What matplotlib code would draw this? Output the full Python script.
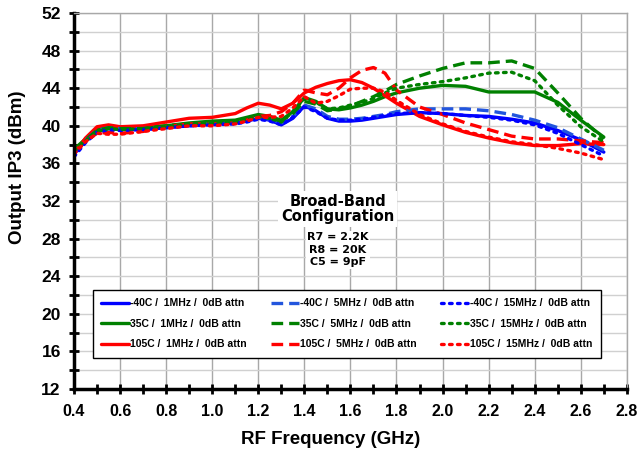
import matplotlib
matplotlib.use("Agg")
import matplotlib.pyplot as plt
from matplotlib.ticker import MultipleLocator

# frequency points (GHz)
freq = [0.4, 0.45, 0.5, 0.55, 0.6, 0.7, 0.8, 0.9, 1.0, 1.1, 1.15, 1.2, 1.25, 1.3, 1.35,
        1.4, 1.45, 1.5, 1.55, 1.6, 1.65, 1.7, 1.75, 1.8, 1.9, 2.0, 2.1, 2.2, 2.3, 2.4,
        2.5, 2.6, 2.7]

# output IP3 (dBm)
m40_1 = [37.0, 38.4, 39.4, 39.7, 39.6, 39.6, 39.8, 40.0, 40.2, 40.3, 40.5, 40.8, 40.6, 40.1, 40.8,
         42.1, 41.6, 40.8, 40.5, 40.5, 40.6, 40.8, 41.0, 41.2, 41.4, 41.3, 41.1, 41.0, 40.7, 40.3,
         39.5, 38.5, 37.2]
m40_5 = [37.2, 38.5, 39.5, 39.8, 39.7, 39.7, 39.9, 40.1, 40.2, 40.3, 40.6, 40.9, 40.7, 40.3, 41.0,
         42.2, 41.8, 41.0, 40.7, 40.7, 40.8, 41.0, 41.2, 41.5, 41.8, 41.8, 41.8, 41.6, 41.2, 40.6,
         39.8, 38.6, 37.4]
m40_15 = [36.7, 38.2, 39.3, 39.6, 39.5, 39.6, 39.8, 40.0, 40.1, 40.2, 40.4, 40.7, 40.5, 40.1, 40.9,
          42.0, 41.5, 40.8, 40.6, 40.6, 40.7, 40.9, 41.1, 41.3, 41.4, 41.3, 41.1, 40.9, 40.6, 40.1,
          39.2, 38.0, 36.8]
t35_1 = [37.5, 38.6, 39.6, 39.8, 39.7, 39.8, 40.0, 40.3, 40.5, 40.6, 40.9, 41.2, 41.0, 40.6, 41.5,
         43.0, 42.6, 41.8, 41.7, 41.9, 42.2, 42.6, 43.1, 43.5, 44.0, 44.3, 44.2, 43.6, 43.6, 43.6,
         42.5, 40.6, 38.8]
t35_5 = [37.4, 38.5, 39.5, 39.8, 39.7, 39.7, 40.0, 40.2, 40.3, 40.4, 40.7, 41.0, 40.8, 40.5, 41.3,
         42.6, 42.3, 41.6, 41.8, 42.1, 42.6, 43.1, 43.7, 44.4, 45.3, 46.1, 46.7, 46.7, 46.9, 46.1,
         43.5, 40.8, 38.6]
t35_15 = [37.3, 38.4, 39.4, 39.7, 39.6, 39.7, 39.9, 40.2, 40.3, 40.4, 40.7, 41.0, 40.8, 40.4, 41.5,
          42.9, 42.5, 41.8, 41.9, 42.2, 42.5, 42.9, 43.5, 44.0, 44.4, 44.7, 45.1, 45.6, 45.7, 44.8,
          42.2, 39.9, 38.3]
t105_1 = [37.0, 38.7, 39.9, 40.1, 39.9, 40.0, 40.4, 40.8, 40.9, 41.3, 41.9, 42.4, 42.2, 41.8, 42.4,
          43.5, 44.1, 44.5, 44.8, 44.9, 44.6, 44.0, 43.2, 42.4, 41.0, 40.1, 39.3, 38.7, 38.2, 37.9,
          37.9, 38.1, 38.0]
t105_5 = [37.2, 38.4, 39.2, 39.3, 39.2, 39.4, 39.9, 40.2, 40.2, 40.3, 40.6, 41.0, 41.1, 41.5, 42.4,
          43.8, 43.5, 43.3, 44.0, 45.1, 45.9, 46.2, 45.6, 43.8, 42.0, 41.2, 40.3, 39.6, 38.9, 38.6,
          38.6, 38.4, 38.2]
t105_15 = [37.0, 38.3, 39.2, 39.1, 39.1, 39.4, 39.7, 40.0, 40.0, 40.2, 40.5, 40.9, 40.9, 41.0, 41.9,
           43.1, 42.4, 42.6, 43.2, 43.9, 44.0, 44.0, 43.6, 42.7, 41.2, 40.2, 39.4, 38.8, 38.3, 38.0,
           37.6, 37.1, 36.4]

labels = ["-40C /  1MHz /  0dB attn", "35C /  1MHz /  0dB attn", "105C /  1MHz /  0dB attn",
          "-40C /  5MHz /  0dB attn", "35C /  5MHz /  0dB attn", "105C /  5MHz /  0dB attn",
          "-40C /  15MHz /  0dB attn", "35C /  15MHz /  0dB attn", "105C /  15MHz /  0dB attn"]
series = [m40_1, t35_1, t105_1, m40_5, t35_5, t105_5, m40_15, t35_15, t105_15]
colors = ["#0000FF", "#008000", "#FF0000", "#2255DD", "#008000", "#FF0000",
          "#0000FF", "#008000", "#FF0000"]
dash = (0, (3.5, 1.8))
dot = (0, (0.8, 1.6))
styles = ["-", "-", "-", dash, dash, dash, dot, dot, dot]

fig = plt.figure(figsize=(6.39, 4.5), dpi=100)
ax = fig.add_axes([0.1158, 0.1356, 0.8652, 0.8355])

for y, lab, c, ls in zip(series, labels, colors, styles):
    cap = "round" if ls == dot else "butt"
    ax.plot(freq, y, color=c, linestyle=ls, linewidth=2.4, label=lab,
            dash_capstyle=cap, solid_capstyle="round")

ax.set_xlim(0.4, 2.8)
ax.set_ylim(12, 52)
ax.xaxis.set_major_locator(MultipleLocator(0.2))
ax.xaxis.set_minor_locator(MultipleLocator(0.1))
ax.yaxis.set_major_locator(MultipleLocator(4))
ax.yaxis.set_minor_locator(MultipleLocator(2))

ax.grid(True, which="major", axis="x", color="#A8A8A8", linewidth=1.0)
ax.grid(True, which="both", axis="y", color="#D0D0D0", linewidth=1.0)
ax.set_axisbelow(True)

for s in ["left", "bottom"]:
    ax.spines[s].set_linewidth(2.5)
    ax.spines[s].set_color("black")
for s in ["top", "right"]:
    ax.spines[s].set_linewidth(1.0)
    ax.spines[s].set_color("#A8A8A8")

ax.tick_params(which="both", direction="inout", length=7, width=2, color="black",
               top=False, right=False)
ax.tick_params(axis="x", pad=7)
ax.tick_params(axis="y", pad=6)
ax.set_xticks([round(0.4 + 0.2 * i, 1) for i in range(13)])
ax.set_xticklabels(["%.1f" % (0.4 + 0.2 * i) for i in range(13)])
for t in ax.get_xticklabels():
    t.set_fontfamily("Liberation Sans")
    t.set_fontweight("bold")
    t.set_fontsize(11.5)
for t in ax.get_yticklabels():
    t.set_fontfamily("Liberation Sans")
    t.set_fontweight("bold")
    t.set_fontsize(12.5)

fig.text(331 / 639, 1 - 439 / 450, "RF Frequency (GHz)", ha="center", va="center",
         fontfamily="Liberation Sans", fontweight="bold", fontsize=13.5)
fig.text(18 / 639, 1 - 167 / 450, "Output IP3 (dBm)", ha="center", va="center",
         rotation=90, fontfamily="Liberation Sans", fontweight="bold", fontsize=13.5)

ax.text(1.545, 31.15, "Broad-Band\nConfiguration", ha="center", va="center",
        fontfamily="DejaVu Sans", fontweight="bold", fontsize=10.5, linespacing=1.0,
        bbox=dict(facecolor="white", edgecolor="none", pad=2))
ax.text(1.545, 26.8, "R7 = 2.2K\nR8 = 20K\nC5 = 9pF", ha="center", va="center",
        fontfamily="DejaVu Sans", fontweight="bold", fontsize=8, linespacing=1.3,
        bbox=dict(facecolor="white", edgecolor="none", pad=1))

leg = ax.legend(loc="upper left", bbox_to_anchor=(0.034, 0.085, 0.919, 0.178),
                mode="expand", ncol=3, fancybox=False, framealpha=1, edgecolor="black",
                prop={"family": "Liberation Sans", "weight": "bold", "size": 7.5},
                handlelength=2.7, handletextpad=0.1, borderaxespad=0, labelspacing=1.0,
                borderpad=0.8)
leg.get_frame().set_linewidth(1.0)

fig.savefig("out.png", dpi=100)
